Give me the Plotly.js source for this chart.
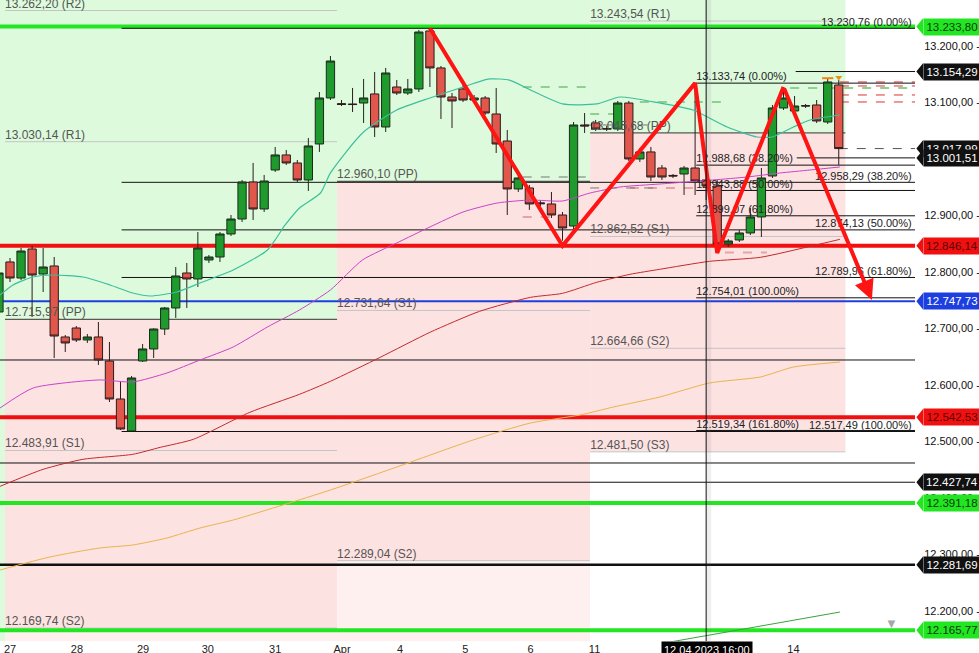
<!DOCTYPE html>
<html><head><meta charset="utf-8">
<script src="https://cdn.plot.ly/plotly-3.0.1.min.js"></script>
<style>html,body{margin:0;padding:0;background:#fff}#chart{width:979px;height:653px}</style>
</head><body><div id="chart"></div>
<script>
// ---------- DATA ----------
const candleIdx = [-1,0,1,2,3,4,5,6,7,8,9,10,11,12,13,14,15,16,17,18,19,20,21,22,23,24,25,26,27,28,29,30,31,32,33,34,35,36,37,38,39,40,41,42,43,44,45,46,47,48,49,50,51,52,53,54,55,56,57,58,59,60,61,62,63,64,65,66,67,68,69,70,71,72,73,74,75];
const openP  = [12728.9,12817.4,12789.0,12840.4,12796.1,12810.3,12684.7,12700.6,12679.4,12684.7,12642.2,12575.0,12518.4,12642.2,12663.5,12698.8,12736.0,12797.9,12787.3,12820.9,12826.2,12866.9,12893.4,12958.9,12911.1,12980.1,13006.7,12992.5,12962.4,13026.1,13107.5,13097.5,13096.9,13098.6,13114.6,13056.2,13126.9,13116.3,13123.4,13226.0,13160.6,13109.2,13123.4,13103.9,13107.5,13079.2,13031.4,12946.5,12948.3,12922.0,12920.0,12900.5,12881.0,13059.7,13063.3,13053.5,13052.6,13098.6,12999.6,13012.0,12983.6,12970.5,12973.0,12983.6,12962.4,12951.8,12849.2,12856.3,12868.7,12897.0,12969.5,13089.8,13084.5,13094.0,13095.1,13065.0,13130.5];
const highP  = [12803.2,12824.4,12842.1,12845.7,12842.1,12826.2,12688.2,12704.1,12690.0,12711.2,12675.8,12605.1,12615.7,12672.3,12700.0,12737.8,12808.5,12815.6,12870.4,12829.7,12870.4,12900.5,12962.4,12992.5,12971.3,13020.8,13015.5,12997.8,13036.7,13118.1,13181.8,13103.9,13125.2,13141.1,13153.5,13160.6,13139.3,13141.1,13227.8,13230.76,13164.1,13116.3,13130.5,13112.8,13111.0,13125.2,13050.9,12969.5,12953.6,12927.0,12941.2,12905.8,13065.0,13080.9,13068.6,13057.9,13102.2,13102.2,13019.0,13020.8,12989.0,12973.0,12987.2,13133.74,12969.5,12962.4,12858.1,12874.0,12912.9,12983.6,13095.1,13126.9,13111.0,13096.9,13103.9,13141.1,13139.3];
const lowP   = [12721.8,12782.0,12785.5,12720.1,12764.3,12647.5,12658.2,12675.8,12674.1,12635.2,12569.7,12520.2,12517.49,12640.5,12647.5,12688.2,12718.3,12736.0,12773.1,12815.6,12817.4,12863.4,12888.1,12891.7,12905.8,12976.6,12989.0,12958.9,12943.0,13012.0,13103.9,13093.3,13082.7,13063.3,13038.5,13047.3,13112.8,13112.8,13118.1,13126.9,13070.3,13054.4,13100.4,13098.6,13077.4,13010.2,12900.5,12941.2,12909.4,12916.4,12895.2,12855.0,12874.0,13045.6,13049.1,13049.1,13049.1,12996.0,12994.3,12960.6,12962.4,12966.0,12935.9,12935.9,12927.0,12833.3,12843.9,12852.7,12865.1,12861.6,12966.0,13086.3,13079.2,13089.8,13063.3,13061.5,12989.0];
const closeP = [12797.9,12789.0,12836.8,12794.3,12808.5,12686.4,12674.1,12679.4,12684.7,12644.0,12575.0,12521.9,12612.2,12663.5,12698.8,12736.0,12792.6,12787.3,12842.1,12826.2,12866.9,12893.4,12958.9,12911.1,12960.6,13006.7,12992.5,12962.4,13022.6,13107.5,13172.9,13096.0,13095.9,13107.5,13056.2,13151.7,13116.3,13123.4,13224.2,13160.6,13109.2,13102.2,13103.9,13107.5,13080.9,13026.1,12946.5,12966.0,12920.0,12920.5,12900.5,12877.5,13059.7,13058.0,13052.6,13052.6,13098.6,12999.6,13012.0,12967.7,12967.7,12969.5,12983.6,12960.6,12951.8,12849.2,12854.5,12868.7,12897.0,12966.0,13089.8,13107.5,13093.3,13093.3,13066.8,13135.8,13017.99];

// moving averages (read at sample points)
const tealX = [-0.9,0.27,2.08,3.9,6.6,9.05,11.1,12.7,15.1,17.2,20.2,23.3,24.9,26.2,28.1,29.0,31.9,35.0,38.0,41.0,43.4,45.2,47.1,50.0,53.1,55.2,58.8,61.8,64.9,67.6,69.0,70.9,72.4,75.1];
const tealY = [12759.0,12776.7,12790.8,12794.3,12790.8,12776.7,12762.5,12757.2,12764.3,12780.2,12803.2,12838.6,12882.8,12912.9,12939.4,12975.0,13045.6,13086.3,13107.5,13126.9,13141.1,13139.0,13121.6,13096.9,13096.9,13109.2,13098.6,13086.3,13056.2,13038.5,13038.5,13056.2,13068.6,13077.4];
const magX = [-0.9,2.1,8.1,11.1,14.2,17.2,20.2,23.3,26.2,29.0,31.9,35.0,38.0,41.0,44.1,47.1,50.0,52.5,55.2,58.8,63.6,66.7,69.7,72.4,75.1];
const magY = [12559.1,12594.5,12608.7,12605.1,12621.0,12644.0,12667.0,12702.4,12732.5,12767.9,12820.9,12851.0,12879.3,12905.8,12921.7,12927.0,12925.3,12939.4,12950.0,12955.3,12962.4,12967.7,12974.8,12980.1,12985.4];
const redMaX = [-0.9,3.0,6.6,11.1,13.6,16.6,21.7,26.2,29.0,33.5,38.0,42.5,47.1,50.0,53.1,56.1,58.8,63.3,67.9,72.4,75.1];
const redMaY = [12420.5,12450.6,12468.3,12477.1,12489.5,12503.7,12551.4,12583.3,12606.3,12648.7,12692.9,12730.1,12754.8,12761.9,12781.4,12795.5,12804.4,12818.5,12825.6,12845.0,12857.4];
const orMaX = [-0.9,3.6,8.1,11.1,14.2,17.2,20.2,24.7,29.0,35.0,41.9,47.1,51.6,54.6,58.8,63.3,67.9,70.9,75.1];
const orMaY = [12272.5,12295.5,12311.4,12316.7,12329.1,12346.8,12360.9,12387.5,12414.0,12454.7,12502.4,12532.5,12546.7,12560.8,12578.5,12603.3,12613.9,12631.6,12640.4];
const trendX = [58.2,75.1];
const trendY = [12139.8,12198.1];

// weekly pivots
const p1Levels = [13262.20,13030.14,12715.97,12483.91,12169.74];
const p1Names  = ['R2','R1','PP','S1','S2'];
const p2Levels = [12960.10,12731.64,12289.04];
const p2Names  = ['PP','S1','S2'];
const p3Levels = [13243.54,13045.68,12862.52,12664.66,12481.50];
const p3Names  = ['R1','PP','S1','S2','S3'];

// fibonacci sets
const fibALevels = [13230.76,12958.29,12874.13,12789.96,12517.49];
const fibAPct    = ['0.00%','38.20%','50.00%','61.80%','100.00%'];
const fibBLevels = [13133.74,12988.68,12943.88,12899.07,12754.01,12519.34];
const fibBPct    = ['0.00%','38.20%','50.00%','61.80%','100.00%','161.80%'];

// price tags on the right
const tagLevels = [13233.80,13154.29,13017.99,13001.51,12846.14,12747.73,12542.53,12427.74,12391.18,12281.69,12165.77];
const tagKinds  = ['lime','black','black','black','red','blue','red','black','lime','black','lime'];
const plainLevels = [12644.0,12461.8];

// zigzag drawing
const zigX = [38,50,62,64,70];
const zigY = [13230.76,12846.0,13133.74,12833.3,13127.0];
const arrowTipX = 78.0, arrowTipY = 12750.2;

// dashed day levels [start idx, end idx, price]
const greenDash = [[46.4,52.5,13126.9],[52.5,55.8,13079.2],[57,64.5,13100.4],[70.6,81.9,13125.2]];
const pinkDash  = [[46.4,49.5,12897.0],[56.1,62.2,12948.3],[64.7,68.5,12834.2]];
const grayDash  = [[46.4,52.5,12967.7],[52.0,58.8,13059.7],[52.5,58.8,12948.3]];
const redDash   = [[75.1,81.9,13135.8],[75.1,81.9,13128.7],[75.1,81.9,13112.8],[75.1,81.9,13100.4]];

// axis labels
const xTickVals = [0,6.06,12.04,17.9,24,30.05,35.3,41.2,47.1,52.9,70.9];
const xTickText = ['27','28','29','30','31','Apr','4','5','6','11','14'];
const yTickVals = [12200,12300,12400,12500,12600,12700,12800,12900,13000,13100,13200];
const crossIdx = 63;
const crossLabel = '12.04.2023 16:00';

// ---------- CONFIG ----------
const X0 = -0.905, X1 = 81.9;
const Y0 = 12146.9, Y1 = 13280.8;
const periods = [[-0.45,29.6],[29.6,52.5],[52.5,75.6]];
const fibAStart = 10.1, fibBStart = 62.1;

function de(v){
  const s = v.toFixed(2).split('.');
  return s[0].replace(/\B(?=(\d{3})+(?!\d))/g,'.') + ',' + s[1];
}

const GREEN_BG = '#ddfadd', PINK_BG = '#fde2e2', PINK_LIGHT = '#fff0f0';
const shapes = [];
shapes.push({type:'rect',xref:'x',yref:'y',x0:X0,x1:periods[0][0],y0:11000,y1:14000,fillcolor:GREEN_BG,line:{width:0},layer:'below'});
const zoneDefs = [
  {pp:p1Levels[2], low:p1Levels[4], below:PINK_LIGHT},
  {pp:p2Levels[0], low:p2Levels[2], below:PINK_LIGHT},
  {pp:p3Levels[1], low:p3Levels[4], below:'#ffffff'}
];
zoneDefs.forEach((z,i)=>{
  const [a,b] = periods[i];
  shapes.push({type:'rect',xref:'x',yref:'y',x0:a,x1:b,y0:z.pp,y1:14000,fillcolor:GREEN_BG,line:{width:0},layer:'below'});
  shapes.push({type:'rect',xref:'x',yref:'y',x0:a,x1:b,y0:z.low,y1:z.pp,fillcolor:PINK_BG,line:{width:0},layer:'below'});
  shapes.push({type:'rect',xref:'x',yref:'y',x0:a,x1:b,y0:11000,y1:z.low,fillcolor:z.below,line:{width:0},layer:'below'});
});
function pivLines(levels,names,pi){
  levels.forEach((v,k)=>{
    const pp = names[k]==='PP';
    shapes.push({type:'line',xref:'x',yref:'y',x0:periods[pi][0],x1:periods[pi][1],y0:v,y1:v,
      line:{color:pp?'#333':'#c4c4c4',width:1},layer:'below'});
  });
}
pivLines(p1Levels,p1Names,0); pivLines(p2Levels,p2Names,1); pivLines(p3Levels,p3Names,2);
plainLevels.forEach(v=>shapes.push({type:'line',xref:'x',yref:'y',x0:X0,x1:X1,y0:v,y1:v,line:{color:'#111',width:1},layer:'below'}));
function dashes(arr,color,w){arr.forEach(d=>shapes.push({type:'line',xref:'x',yref:'y',x0:d[0],x1:d[1],y0:d[2],y1:d[2],line:{color:color,width:w,dash:'dash'},layer:'below'}));}
dashes(greenDash,'#8fcf8f',2); dashes(pinkDash,'#e7a3a3',2); dashes(grayDash,'#777',1); dashes(redDash,'#e03030',1);
const tagColor = {lime:'#22e622',black:'#111111',red:'#f01010',blue:'#1d3fe0'};
tagLevels.forEach((v,k)=>{
  const kind = tagKinds[k];
  let x0 = X0, w = 1, dash = 'solid';
  if(kind==='lime'||kind==='red') w = 4;
  if(kind==='blue') w = 2;
  if(Math.abs(v-12281.69)<0.01) w = 2.5;
  if(Math.abs(v-13154.29)<0.01) x0 = 71.1;
  if(Math.abs(v-13001.51)<0.01) x0 = 71.2;
  if(Math.abs(v-13017.99)<0.01){ x0 = 75.0; dash='dash'; }
  shapes.push({type:'line',xref:'x',yref:'y',x0:x0,x1:X1,y0:v,y1:v,line:{color:kind==='black'&&dash==='dash'?'#555':tagColor[kind],width:w,dash:dash},layer:'below'});
});
fibALevels.forEach(v=>shapes.push({type:'line',xref:'x',yref:'y',x0:fibAStart,x1:X1,y0:v,y1:v,line:{color:'#111',width:1},layer:'below'}));
fibBLevels.forEach(v=>shapes.push({type:'line',xref:'x',yref:'y',x0:fibBStart,x1:X1,y0:v,y1:v,line:{color:'#111',width:1},layer:'below'}));
// crosshair with faint halo
shapes.push({type:'rect',xref:'x',yref:'paper',x0:crossIdx,x1:crossIdx+0.45,y0:0,y1:1,fillcolor:'rgba(120,120,120,0.12)',line:{width:0}});
shapes.push({type:'line',xref:'x',yref:'paper',x0:crossIdx,x1:crossIdx,y0:0,y1:1,line:{color:'#111',width:1}});
const annotations = [];
tagLevels.forEach((v,k)=>{
  const kind = tagKinds[k];
  const bg = tagColor[kind];
  const txt = (kind==='lime')?'#0b3a0b':(kind==='red')?'#5a0000':'#ffffff';
  shapes.push({type:'path',xref:'paper',yref:'y',path:`M 1.0015,${v} L 1.0090,${v+15} L 1.0090,${v-15} Z`,fillcolor:bg,line:{width:0}});
  annotations.push({xref:'paper',yref:'y',x:1.0088,y:v,xanchor:'left',yanchor:'middle',text:de(v),showarrow:false,
    bgcolor:bg,borderpad:1,width:54,height:14,align:'center',font:{family:'Liberation Sans, Arial',size:11.5,color:txt}});
});
annotations.push({xref:'x',yref:'y',axref:'x',ayref:'y',x:arrowTipX,y:arrowTipY,ax:zigX[zigX.length-1],ay:zigY[zigY.length-1],
  text:'',showarrow:true,arrowhead:2,arrowsize:1,arrowwidth:4,arrowcolor:'#ff1414',standoff:0});
annotations.push({xref:'x',yref:'paper',x:crossIdx+0.1,y:0,yanchor:'top',yshift:0,text:crossLabel,showarrow:false,
  bgcolor:'#000',borderpad:2,font:{family:'Liberation Sans, Arial',size:11,color:'#fff'}});
annotations.push({xref:'paper',yref:'paper',x:900/915,y:0.012,text:'▼',showarrow:false,font:{size:13,color:'#a8a8a8'}});

// ---------- TRACES ----------
const traces = [];
function ma(x,y,color,w){traces.push({type:'scatter',mode:'lines',x:x,y:y,line:{color:color,width:w,shape:'spline',smoothing:0.6},hoverinfo:'skip'});}
ma(orMaX,orMaY,'#e9b44c',1);
ma(redMaX,redMaY,'#c32a2a',1);
ma(magX,magY,'#c844c8',1);
ma(tealX,tealY,'#3dbf9c',1.2);
traces.push({type:'scatter',mode:'lines',x:trendX,y:trendY,line:{color:'#3aa23a',width:1},hoverinfo:'skip'});

function labelTrace(x,levels,texts,pos,size,color){
  traces.push({type:'scatter',mode:'text',x:levels.map(()=>x),y:levels,text:texts,textposition:pos,
    textfont:{family:'Liberation Sans, Arial',size:size,color:color},hoverinfo:'skip'});
}
labelTrace(periods[0][0],p1Levels,p1Levels.map((v,k)=>de(v)+' ('+p1Names[k]+')'),'top right',12,'#555');
labelTrace(periods[1][0],p2Levels,p2Levels.map((v,k)=>de(v)+' ('+p2Names[k]+')'),'top right',12,'#555');
labelTrace(periods[2][0],p3Levels,p3Levels.map((v,k)=>de(v)+' ('+p3Names[k]+')'),'top right',12,'#555');
labelTrace(81.6,fibALevels,fibALevels.map((v,k)=>de(v)+' ('+fibAPct[k]+')'),'top left',11,'#222');
labelTrace(fibBStart,fibBLevels,fibBLevels.map((v,k)=>de(v)+' ('+fibBPct[k]+')'),'top right',11,'#222');

traces.push({type:'candlestick',x:candleIdx,open:openP,high:highP,low:lowP,close:closeP,whiskerwidth:0,
  increasing:{line:{color:'#1c2a1c',width:1},fillcolor:'#1f9b2d'},
  decreasing:{line:{color:'#2a1c1c',width:1},fillcolor:'#e2574c'},hoverinfo:'skip'});
traces.push({type:'scatter',mode:'markers',x:[74],y:[13142.5],marker:{symbol:'line-ew-open',size:8,line:{width:2,color:'#333'}},hoverinfo:'skip'});
traces.push({type:'scatter',mode:'markers',x:[75],y:[13143.5],marker:{symbol:'triangle-down',size:6,color:'#e8901c'},hoverinfo:'skip'});
traces.push({type:'scatter',mode:'lines',x:zigX,y:zigY,line:{color:'#ff1414',width:4},hoverinfo:'skip'});

const layout = {
  width:979,height:653,margin:{l:0,r:64,t:0,b:12},
  paper_bgcolor:'#ffffff',plot_bgcolor:'#ffffff',showlegend:false,
  boxgap:0.25,boxgroupgap:0,
  font:{family:'Liberation Sans, Arial',size:11,color:'#222'},
  xaxis:{range:[X0,X1],showgrid:false,zeroline:false,showline:false,tickmode:'array',tickvals:xTickVals,ticktext:xTickText,
    ticks:'',tickfont:{size:11,color:'#222'},rangeslider:{visible:false},fixedrange:true},
  yaxis:{range:[Y0,Y1],side:'right',showgrid:false,zeroline:false,showline:false,tickmode:'array',tickvals:yTickVals,
    ticktext:yTickVals.map(v=>de(v)+' -'),ticks:'outside',ticklen:6,tickcolor:'rgba(0,0,0,0)',tickfont:{size:11,color:'#111'},fixedrange:true},
  shapes:shapes,annotations:annotations
};
Plotly.newPlot('chart',traces,layout,{staticPlot:true,displayModeBar:false});
</script></body></html>
